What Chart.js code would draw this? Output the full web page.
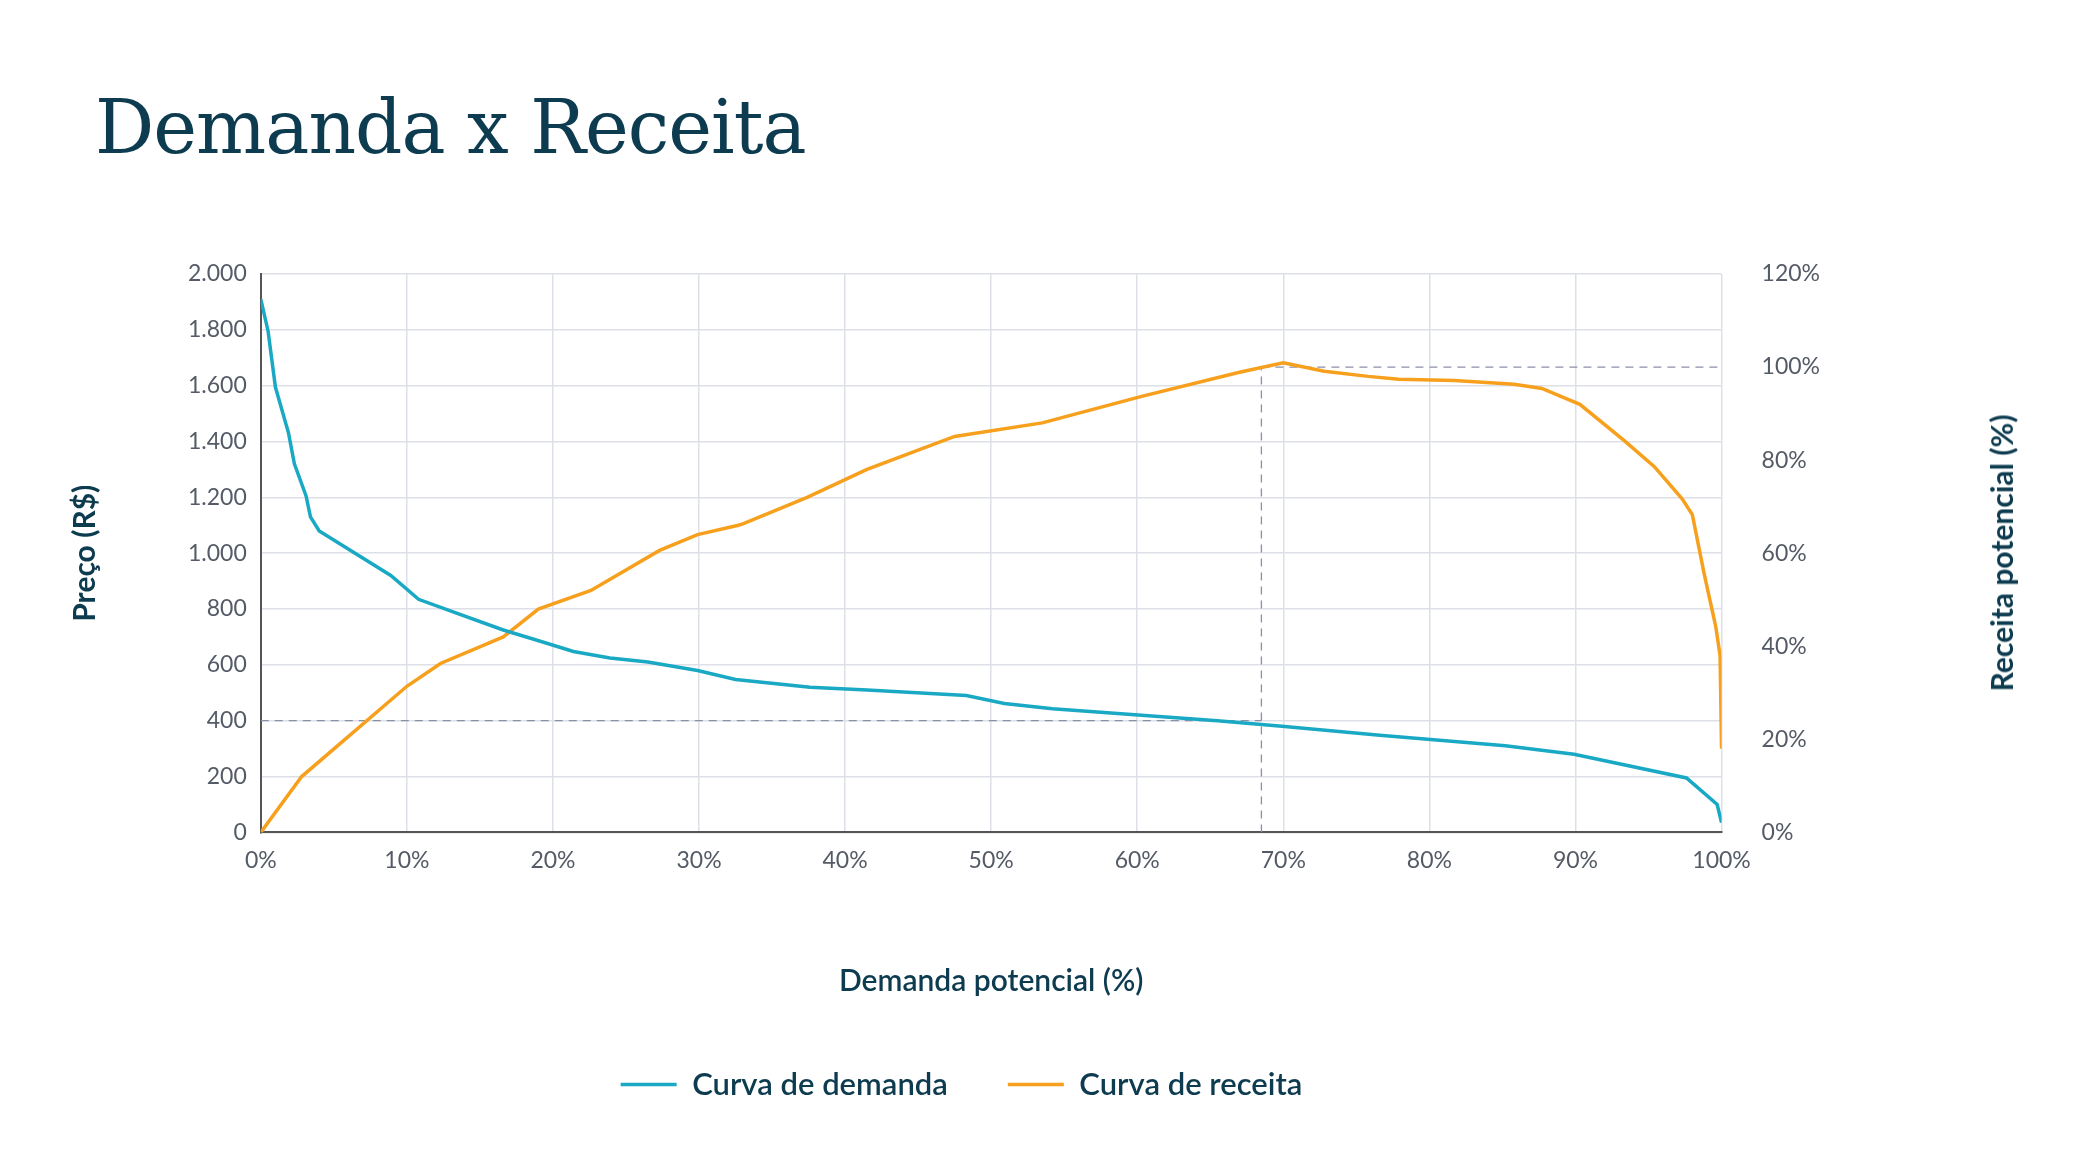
<!DOCTYPE html>
<html><head><meta charset="utf-8">
<script src="https://cdn.jsdelivr.net/npm/chart.js"></script>
<style>
body{margin:0;background:#fff;width:2087px;height:1176px;overflow:hidden;position:relative}
#t{position:absolute;left:95px;top:84px;font-family:"DejaVu Serif",serif;font-size:74px;color:#0d3b4f;letter-spacing:-1px}
#c{position:absolute;left:0;top:0}
#r{position:absolute;left:2001px;top:553px;transform:translate(-50%,-50%) rotate(-90deg);white-space:nowrap;font-family:Lato;font-weight:bold;font-size:30px;color:#0d3b4f}
</style></head><body>
<div id="t">Demanda x Receita</div>
<canvas id="c" width="2087" height="1176"></canvas>
<div id="r">Receita potencial (%)</div>
<script>
const demandX=[0,0.5,1,1.9,2.3,3.1,3.4,4,8.9,10.8,13.4,16.6,18.8,21.4,23.9,26.5,29.9,32.5,37.6,41.5,48.3,50.9,54.2,60.3,65.5,69.9,76.6,85.2,89.9,97.6,99.7,100];
const demandPrice=[1910,1795,1595,1430,1320,1205,1130,1080,920,835,785,725,690,648,625,610,580,548,520,510,490,462,443,420,400,380,348,310,280,195,100,35];
const revenueX=[0,2.8,10,12.3,16.6,19,22.6,27.3,29.9,32.7,33,37.4,41.5,47.5,53.5,60.3,67,70,72.8,75.8,77.9,81.7,85.8,87.7,90.3,93.3,95.4,97.3,98,98.8,99.6,99.9,100];
const revenuePct=[0,12,31.4,36.3,42,48,52,60.6,64,66,66.3,72,78,85.1,88,93.7,98.9,100.9,99.1,98,97.4,97.1,96.3,95.4,92,84.3,78.6,71.7,68.3,55.7,44.3,38,18];
const optimumX=68.5, optimumPrice=400, optimumRevenue=100;
const zip=(a,b)=>a.map((v,i)=>({x:v,y:b[i]}));
const dash={borderColor:'#8a90a8',borderWidth:1.3,borderDash:[8,6],pointRadius:0,fill:false};
const tickFont={family:'Lato',size:23};
new Chart(document.getElementById('c'),{type:'scatter',
data:{datasets:[
{label:'Curva de demanda',data:zip(demandX,demandPrice),showLine:true,borderColor:'#1aa9c4',backgroundColor:'#1aa9c4',borderWidth:3.5,pointRadius:0,yAxisID:'y'},
{label:'Curva de receita',data:zip(revenueX,revenuePct),showLine:true,borderColor:'#f7a01d',backgroundColor:'#f7a01d',borderWidth:3.5,pointRadius:0,yAxisID:'y1'},
{label:'_h1',data:[{x:0,y:optimumPrice},{x:optimumX,y:optimumPrice}],showLine:true,yAxisID:'y',...dash},
{label:'_v',data:[{x:optimumX,y:0},{x:optimumX,y:optimumRevenue}],showLine:true,yAxisID:'y1',...dash},
{label:'_h2',data:[{x:optimumX,y:optimumRevenue},{x:100,y:optimumRevenue}],showLine:true,yAxisID:'y1',...dash}
]},
options:{responsive:false,animation:false,
layout:{padding:{left:63,right:227,top:274,bottom:66}},
plugins:{tooltip:{enabled:false},
legend:{position:'bottom',labels:{filter:i=>!i.text.startsWith('_'),usePointStyle:true,pointStyle:'line',pointStyleWidth:56,boxHeight:3,padding:60,color:'#0d3b4f',font:{family:'Lato',size:31,weight:'600'}}}},
scales:{
x:{type:'linear',min:0,max:100,ticks:{stepSize:10,callback:v=>v+'%',color:'#555b66',font:tickFont,padding:14},
 grid:{color:'#dde0e6',lineWidth:1.5,drawTicks:false},border:{color:'#555',width:2},
 title:{display:true,text:'Demanda potencial (%)',color:'#0d3b4f',font:{family:'Lato',size:30,weight:'600'},padding:{top:75,bottom:10}}},
y:{min:0,max:2000,ticks:{stepSize:200,callback:v=>v.toLocaleString('pt-BR'),color:'#555b66',font:tickFont,padding:14},
 grid:{color:'#dde0e6',lineWidth:1.5,drawTicks:false},border:{color:'#555',width:2},
 title:{display:true,text:'Preço (R$)',color:'#0d3b4f',font:{family:'Lato',size:30,weight:'bold'},padding:{bottom:71}}},
y1:{position:'right',min:0,max:120,ticks:{stepSize:20,callback:v=>v+'%',color:'#555b66',font:tickFont,padding:40},
 grid:{display:false,drawTicks:false},border:{display:false},title:{display:false}}
}}});
</script></body></html>
